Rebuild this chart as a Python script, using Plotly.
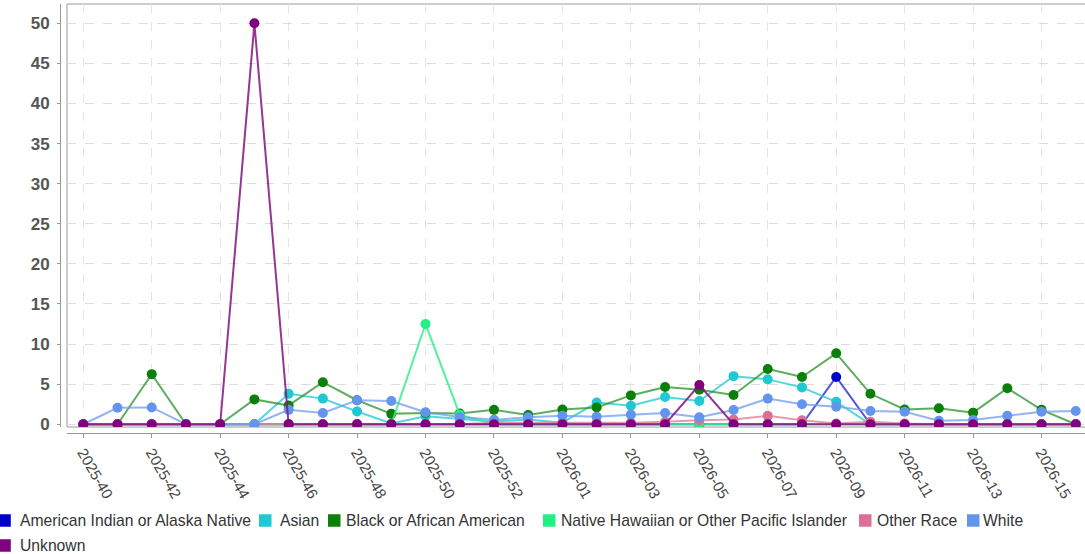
import plotly.graph_objects as go

weeks = [f"2025-{w}" for w in range(40, 54)] + [f"2026-{w:02d}" for w in range(1, 17)]

aian = [0, 0, 0, 0, 0, 0, 0, 0, 0, 0, 0, 0, 0, 0, 0, 0, 0, 0, 0, 0, 0, 0, 5.9, 0, 0, 0, 0, 0, 0, 0]
asian = [0, 0, 0, 0, 0, 0, 3.8, 3.2, 1.6, 0.1, 1.0, 0.7, 0.35, 0.6, 0.2, 2.7, 2.3, 3.4, 2.9, 6.0, 5.6, 4.6, 2.8, 0, 0, 0, 0, 0, 0, 0]
black = [0, 0, 6.25, 0, 0, 3.1, 2.35, 5.25, 3.0, 1.3, 1.4, 1.35, 1.8, 1.15, 1.85, 2.1, 3.6, 4.65, 4.3, 3.65, 6.9, 5.9, 8.85, 3.8, 1.85, 2.0, 1.45, 4.5, 1.8, 0]
nhpi = [0, 0, 0, 0, 0, 0, 0, 0, 0, 0, 12.5, 1.2, 0, 0, 0, 0, 0, 0, 0, 0, 0, 0, 0, 0, 0, 0, 0, 0, 0, 0]
other = [0, 0, 0, 0, 0, 0, 0, 0, 0, 0, 0, 0, 0.2, 0.2, 0.2, 0.2, 0.2, 0.3, 0.5, 0.6, 1.05, 0.5, 0.1, 0.3, 0.1, 0, 0, 0, 0, 0]
white = [0, 2.05, 2.1, 0, 0, 0, 1.8, 1.4, 3.0, 2.9, 1.5, 0.9, 0.55, 0.87, 1.05, 0.95, 1.2, 1.4, 0.87, 1.78, 3.2, 2.5, 2.2, 1.66, 1.57, 0.45, 0.54, 1.07, 1.57, 1.66]
unknown = [0, 0, 0, 0, 0, 50, 0, 0, 0, 0, 0, 0, 0, 0, 0, 0, 0, 0, 4.9, 0, 0, 0, 0, 0, 0, 0, 0, 0, 0, 0]

series_names = ["American Indian or Alaska Native", "Asian", "Black or African American",
                "Native Hawaiian or Other Pacific Islander", "Other Race", "White", "Unknown"]
series_values = [aian, asian, black, nhpi, other, white, unknown]
colors = ["#0000CD", "#1FC8D2", "#0A800A", "#22F080", "#DB7093", "#6495ED", "#800080"]
line_colors = ["rgba(40,40,215,0.8)", "rgba(40,205,215,0.8)", "rgba(40,145,40,0.75)",
               "rgba(50,240,140,0.85)", "rgba(220,120,150,0.75)", "rgba(110,155,240,0.75)",
               "rgba(128,20,128,0.85)"]

y_ticks = list(range(0, 55, 5))

# pixel geometry helpers (figure 1085 x 554)
W, H = 1085, 554
ML, MR, MT, MB = 60, 0, 4, 121
PW, PH = W - ML - MR, H - MT - MB


def px_x(px):
    return (px - ML) / PW


def px_y(py):
    return (H - MB - py) / PH


fig = go.Figure()
for name, vals, c, lc in zip(series_names, series_values, colors, line_colors):
    fig.add_trace(go.Scatter(
        x=weeks, y=vals, name=name, mode="lines+markers",
        line=dict(color=lc, width=2),
        marker=dict(color=c, size=10),
        showlegend=False,
    ))

plot_left_px = 67
plot_bottom_px = 427
fig.update_layout(
    width=W, height=H,
    margin=dict(l=ML, r=MR, t=MT, b=MB),
    paper_bgcolor="white", plot_bgcolor="white",
    font=dict(family="Liberation Sans, Arial, sans-serif", color="#333"),
    xaxis=dict(
        type="category",
        domain=[px_x(plot_left_px), 1],
        anchor="free", position=0,
        range=[-0.476, 29.27],
        tickvals=weeks[::2], ticktext=weeks[::2],
        tickangle=60,
        tickfont=dict(size=15, color="#444"),
        ticks="outside", ticklen=4, tickcolor="#999",
        showline=True, linecolor="#999", linewidth=1,
        showgrid=True, gridcolor="#e4e4e4", griddash="dash", gridwidth=1,
        zeroline=False,
    ),
    yaxis=dict(
        domain=[px_y(plot_bottom_px), 1],
        anchor="free", position=0,
        range=[-0.34, 52.41],
        tickvals=y_ticks,
        tickfont=dict(size=17, color="#555", weight="bold"),
        ticks="outside", ticklen=3, tickcolor="#999",
        ticklabelstandoff=4,
        showline=True, linecolor="#999", linewidth=1,
        showgrid=True, gridcolor="#dcdcdc", griddash="dash", gridwidth=1,
        zeroline=False,
    ),
)

# plot-area frame (top and left borders)
fig.add_shape(type="rect", xref="x domain", yref="y domain", x0=0, x1=1.02, y0=0, y1=1,
              line=dict(color="#999", width=1), layer="below")

# legend drawn as swatches + text
legend_items = [
    (0, -1.7, 20), (0, 259, 279.6), (0, 328, 346), (0, 543, 561),
    (0, 859, 876.5), (0, 967, 983), (1, -1.7, 20),
]
row_centers = [520.5, 545.5]
sw = 12.5
for (row, sx, tx), name, c in zip(legend_items, series_names, colors):
    cy = row_centers[row]
    fig.add_shape(type="rect", xref="paper", yref="paper",
                  x0=px_x(sx), x1=px_x(sx + sw), y0=px_y(cy + sw / 2), y1=px_y(cy - sw / 2),
                  fillcolor=c, line=dict(width=0))
    fig.add_annotation(xref="paper", yref="paper", x=px_x(tx - 1), y=px_y(cy),
                       text=name, showarrow=False, xanchor="left", yanchor="middle",
                       font=dict(size=15.7, color="#333"), borderpad=0)

fig.write_html("out.html",
               config={"displayModeBar": False},
               post_script="document.body.style.margin='0';document.body.style.overflow='hidden';")
